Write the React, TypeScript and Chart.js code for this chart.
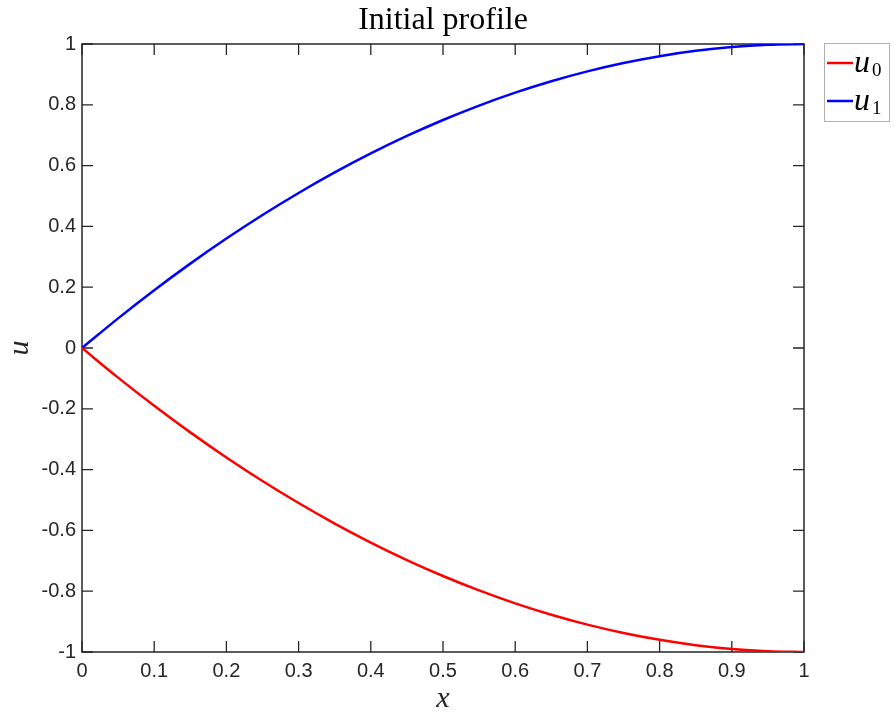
import React, { useEffect, useRef } from "react";
import { Chart, registerables } from "chart.js";

Chart.register(...registerables);

const xValues = [0, 0.05, 0.1, 0.15, 0.2, 0.25, 0.3, 0.35, 0.4, 0.45, 0.5, 0.55, 0.6, 0.65, 0.7, 0.75, 0.8, 0.85, 0.9, 0.95, 1];
const u1Values = [0, 0.0975, 0.19, 0.2775, 0.36, 0.4375, 0.51, 0.5775, 0.64, 0.6975, 0.75, 0.7975, 0.84, 0.8775, 0.91, 0.9375, 0.96, 0.9775, 0.99, 0.9975, 1];
const u0Values = [0, -0.0975, -0.19, -0.2775, -0.36, -0.4375, -0.51, -0.5775, -0.64, -0.6975, -0.75, -0.7975, -0.84, -0.8775, -0.91, -0.9375, -0.96, -0.9775, -0.99, -0.9975, -1];

const xTickValues = [0, 0.1, 0.2, 0.3, 0.4, 0.5, 0.6, 0.7, 0.8, 0.9, 1];
const xTickLabels = ["0", "0.1", "0.2", "0.3", "0.4", "0.5", "0.6", "0.7", "0.8", "0.9", "1"];
const yTickValues = [-1, -0.8, -0.6, -0.4, -0.2, 0, 0.2, 0.4, 0.6, 0.8, 1];
const yTickLabels = ["-1", "-0.8", "-0.6", "-0.4", "-0.2", "0", "0.2", "0.4", "0.6", "0.8", "1"];

const seriesColors = ["#ff0000", "#0000ff"];
const legendBase = ["u", "u"];
const legendSub = ["0", "1"];
const titleText = "Initial profile";
const xLabel = "x";
const yLabel = "u";

const AXIS_COLOR = "#262626";
const TICK_LEN = 11;

const decor = {
  id: "matlabDecor",
  beforeDatasetsDraw(chart: any) {
    const { ctx, chartArea } = chart;
    const { left, right, top, bottom } = chartArea;
    const xs = chart.scales.x;
    const ys = chart.scales.y;
    ctx.save();
    ctx.strokeStyle = AXIS_COLOR;
    ctx.lineWidth = 1.5;
    ctx.beginPath();
    ctx.rect(left, top, right - left, bottom - top);
    ctx.stroke();
    ctx.lineWidth = 1.3;
    ctx.beginPath();
    xTickValues.forEach((v) => {
      const px = xs.getPixelForValue(v);
      ctx.moveTo(px, bottom);
      ctx.lineTo(px, bottom - TICK_LEN);
      ctx.moveTo(px, top);
      ctx.lineTo(px, top + TICK_LEN);
    });
    yTickValues.forEach((v) => {
      const py = ys.getPixelForValue(v);
      ctx.moveTo(left, py);
      ctx.lineTo(left + TICK_LEN, py);
      ctx.moveTo(right, py);
      ctx.lineTo(right - TICK_LEN, py);
    });
    ctx.stroke();
    ctx.restore();
  },
  afterDraw(chart: any) {
    const { ctx, chartArea } = chart;
    const { left, right, top, bottom } = chartArea;
    const cx = (left + right) / 2;
    const cy = (top + bottom) / 2;
    ctx.save();
    // title
    ctx.fillStyle = "#000000";
    ctx.font = '32px "Liberation Serif"';
    ctx.textAlign = "center";
    ctx.textBaseline = "alphabetic";
    ctx.fillText(titleText, cx, 29);
    // x label
    ctx.fillStyle = AXIS_COLOR;
    ctx.font = 'italic 30px "Liberation Serif"';
    ctx.fillText(xLabel, cx, 707);
    // y label
    ctx.save();
    ctx.translate(28, cy);
    ctx.rotate(-Math.PI / 2);
    ctx.textAlign = "center";
    ctx.fillText(yLabel, 0, 0);
    ctx.restore();
    // legend
    const lx = 824, ly = 43, lw = 65, lh = 78;
    ctx.fillStyle = "#ffffff";
    ctx.fillRect(lx, ly, lw, lh);
    ctx.strokeStyle = "#b0b0b0";
    ctx.lineWidth = 1;
    ctx.strokeRect(lx + 0.5, ly + 0.5, lw, lh);
    for (let i = 0; i < legendBase.length; i++) {
      const rowY = 63 + i * 38;
      ctx.strokeStyle = seriesColors[i];
      ctx.lineWidth = 2.5;
      ctx.beginPath();
      ctx.moveTo(827, rowY);
      ctx.lineTo(853, rowY);
      ctx.stroke();
      ctx.fillStyle = "#000000";
      ctx.textAlign = "left";
      ctx.font = 'italic 32px "Liberation Serif"';
      ctx.fillText(legendBase[i], 854, rowY + 9);
      ctx.font = '19px "Liberation Serif"';
      ctx.fillText(legendSub[i], 872, rowY + 13);
    }
    ctx.restore();
  },
};

export default function App() {
  const ref = useRef<HTMLCanvasElement>(null);
  useEffect(() => {
    document.body.style.margin = "0";
    const canvas = ref.current;
    if (!canvas) return;
    const tickFont = { family: '"Liberation Sans", Arial, sans-serif', size: 20 };
    const chart = new Chart(canvas, {
      type: "line",
      data: {
        datasets: [
          {
            label: "u0",
            data: xValues.map((x, i) => ({ x, y: u0Values[i] })),
            borderColor: seriesColors[0],
            borderWidth: 2.5,
            pointRadius: 0,
            cubicInterpolationMode: "monotone",
            fill: false,
          },
          {
            label: "u1",
            data: xValues.map((x, i) => ({ x, y: u1Values[i] })),
            borderColor: seriesColors[1],
            borderWidth: 2.5,
            pointRadius: 0,
            cubicInterpolationMode: "monotone",
            fill: false,
          },
        ],
      },
      options: {
        responsive: false,
        animation: false,
        devicePixelRatio: 1,
        layout: { padding: { top: 44, right: 92, left: 0, bottom: 0 } },
        plugins: {
          legend: { display: false },
          title: { display: false },
          tooltip: { enabled: false },
        },
        scales: {
          x: {
            type: "linear",
            min: 0,
            max: 1,
            afterBuildTicks: (s: any) => {
              s.ticks = xTickValues.map((v) => ({ value: v }));
            },
            afterFit: (s: any) => {
              s.height = 65;
            },
            ticks: {
              callback: (_v: any, i: number) => xTickLabels[i],
              font: tickFont,
              color: AXIS_COLOR,
              padding: 7,
              maxRotation: 0,
              autoSkip: false,
            },
            grid: { display: false, drawTicks: false },
            border: { display: false },
          },
          y: {
            type: "linear",
            min: -1,
            max: 1,
            afterBuildTicks: (s: any) => {
              s.ticks = yTickValues.map((v) => ({ value: v }));
            },
            afterFit: (s: any) => {
              s.width = 82;
            },
            ticks: {
              callback: (_v: any, i: number) => yTickLabels[i],
              font: tickFont,
              color: AXIS_COLOR,
              padding: 6,
              autoSkip: false,
            },
            grid: { display: false, drawTicks: false },
            border: { display: false },
          },
        },
      },
      plugins: [decor],
    } as any);
    return () => chart.destroy();
  }, []);
  return (
    <div style={{ width: 896, height: 717 }}>
      <canvas ref={ref} width={896} height={717} style={{ display: "block" }} />
    </div>
  );
}
